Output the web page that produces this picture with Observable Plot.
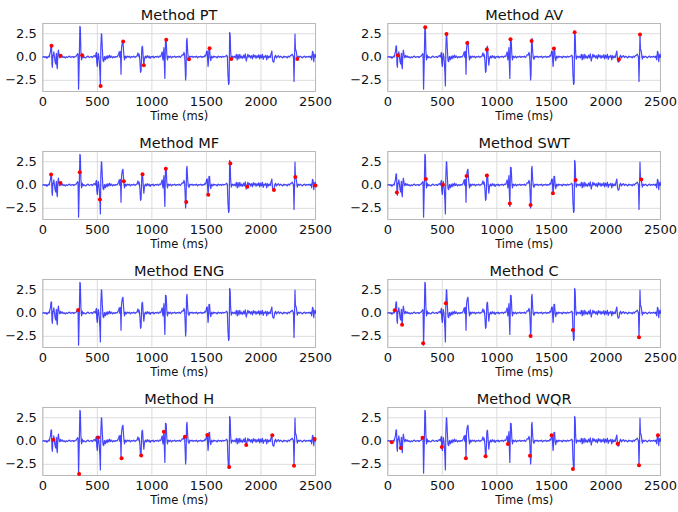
<!DOCTYPE html>
<html><head><meta charset="utf-8">
<script src="https://cdn.jsdelivr.net/npm/d3@7"></script>
<script src="https://cdn.jsdelivr.net/npm/@observablehq/plot@0.6"></script>
<style>
html,body{margin:0;padding:0;background:#fff;overflow:hidden;}
#wrap{position:relative;width:678px;height:512px;font-family:"DejaVu Sans",sans-serif;}
#wrap svg{position:absolute;overflow:visible;}
</style></head><body><div id="wrap"></div>
<script>
// ECG-like signal: [time (ms), amplitude]
const ecg = [
[0,0],[10,0.05],[20,-0.05],[30,0.05],[37,-0.14],[45,0.0],[52,0.1],[58,0.0],[64,0.3],[70,0.55],[75,1.15],[80,1.2],[84,-0.8],[88,-1.1],[92,0.2],[96,0.15],[101,0.55],[107,0.0],[113,-0.55],[119,-0.75],[124,0.4],[129,-0.9],[133,-1.25],[138,0.3],[143,0.75],[149,0.2],[156,-0.1],[162,0.18],[170,0.0],[178,0.12],[186,-0.05],[195,0.05],[205,-0.1],[215,0.02],[225,-0.06],[235,0.05],[245,0.1],[255,-0.05],[265,0.02],[275,0.06],[285,-0.05],[295,0.05],[305,0.1],[312,0.2],[318,0.36],[323,0.32],[328,-3.45],[334,-0.5],[340,3.3],[344,3.15],[349,0.66],[355,-0.3],[361,0.2],[368,-0.1],[376,0.05],[385,-0.05],[395,-0.1],[405,0.05],[415,0.1],[425,-0.05],[435,0.0],[445,0.06],[455,-0.05],[465,0.1],[474,0.15],[481,0.0],[487,0.3],[491,0.5],[495,-0.64],[500,-1.0],[505,0.05],[508,0.39],[513,0.1],[518,-0.5],[523,-1.56],[528,-3.1],[532,0.96],[537,2.5],[540,2.45],[546,0.8],[552,-0.4],[558,-0.5],[565,0.05],[573,-0.3],[581,0.1],[589,-0.2],[597,0.15],[605,-0.1],[613,0.2],[621,-0.05],[630,0.1],[640,-0.1],[650,0.05],[660,-0.05],[670,0.05],[680,0.0],[688,0.15],[695,0.3],[700,0.55],[705,0.0],[710,0.6],[714,-0.3],[717,-1.86],[722,0.96],[728,1.5],[735,1.7],[742,0.4],[749,-0.3],[756,0.1],[764,-0.1],[774,0.1],[784,0.0],[794,0.1],[804,-0.1],[814,0.05],[824,0.0],[834,0.1],[844,-0.05],[854,0.05],[863,0.1],[872,0.45],[878,0.1],[884,0.3],[890,-0.4],[896,-1.64],[901,-1.5],[908,1.03],[914,1.16],[920,0.1],[926,-0.87],[932,-0.2],[940,0.1],[948,-0.1],[957,0.15],[966,-0.05],[975,0.1],[984,-0.15],[993,0.05],[1002,0.0],[1011,0.1],[1020,-0.1],[1030,0.05],[1040,0.0],[1050,0.1],[1060,-0.05],[1070,0.1],[1080,0.05],[1088,0.3],[1094,0.55],[1101,-0.32],[1106,0.3],[1110,1.0],[1115,-1.0],[1119,-2.3],[1125,1.9],[1131,1.85],[1137,0.3],[1143,-0.3],[1150,0.1],[1160,-0.05],[1170,0.1],[1180,-0.1],[1190,0.05],[1200,0.0],[1210,0.1],[1220,-0.05],[1230,0.05],[1240,0.0],[1250,0.1],[1260,-0.05],[1270,0.1],[1280,0.25],[1288,0.2],[1294,0.5],[1300,0.3],[1305,-1.0],[1309,-2.46],[1313,-1.9],[1318,1.73],[1322,2.0],[1328,0.6],[1334,-0.1],[1340,-0.25],[1348,0.1],[1358,0.0],[1368,0.1],[1378,-0.05],[1388,0.05],[1398,0.0],[1408,0.1],[1418,-0.1],[1428,0.05],[1438,0.0],[1448,0.1],[1458,-0.05],[1468,0.05],[1478,0.0],[1488,0.2],[1494,0.1],[1502,0.61],[1508,0.64],[1511,-0.3],[1515,-1.0],[1519,-0.5],[1523,0.92],[1529,0.94],[1534,0.0],[1540,-0.4],[1548,0.1],[1558,-0.1],[1568,0.1],[1578,0.0],[1588,0.05],[1598,-0.1],[1608,0.1],[1618,0.0],[1628,0.05],[1638,-0.05],[1648,0.1],[1658,0.0],[1668,0.05],[1678,0.1],[1686,0.2],[1692,0.05],[1697,-1.82],[1703,-2.95],[1708,-2.8],[1713,2.65],[1718,2.32],[1722,0.55],[1728,-0.22],[1736,0.1],[1745,-0.05],[1755,0.1],[1765,-0.1],[1775,0.3],[1782,-0.3],[1790,0.25],[1798,-0.2],[1806,0.3],[1814,-0.1],[1822,0.1],[1830,-0.15],[1840,0.2],[1848,-0.1],[1856,0.35],[1865,-0.43],[1872,-0.1],[1880,0.3],[1888,0.0],[1896,0.2],[1905,-0.1],[1914,0.15],[1922,-0.2],[1930,0.25],[1938,0.0],[1946,0.2],[1955,-0.15],[1963,0.15],[1972,-0.05],[1980,0.25],[1988,-0.2],[1996,0.2],[2005,-0.1],[2013,0.3],[2021,-0.25],[2029,0.1],[2037,0.0],[2045,0.2],[2053,-0.3],[2061,0.15],[2069,-0.1],[2077,0.1],[2085,-0.05],[2092,0.3],[2100,0.65],[2106,-0.3],[2112,-0.55],[2119,-0.5],[2126,0.0],[2134,0.2],[2142,-0.1],[2150,0.05],[2160,0.15],[2170,-0.05],[2180,0.1],[2190,0.0],[2200,-0.1],[2210,0.1],[2220,0.0],[2230,0.05],[2240,-0.1],[2250,0.1],[2260,0.0],[2270,0.15],[2280,0.2],[2288,0.3],[2294,0.15],[2298,0.0],[2303,-2.62],[2308,0.0],[2312,2.45],[2316,0.87],[2324,0.59],[2333,-0.22],[2340,0.1],[2350,-0.05],[2360,0.1],[2370,0.0],[2380,-0.1],[2390,0.05],[2400,0.1],[2410,-0.05],[2420,0.05],[2430,0.0],[2440,0.1],[2450,-0.05],[2458,0.1],[2465,-0.3],[2472,0.6],[2478,0.5],[2484,-0.5],[2490,0.2],[2496,0.3],[2500,0.0]
];

// Detected peaks per method: [time (ms), amplitude]
const detPT  = [[80,1.2],[162,0.15],[361,0.2],[530,-3.1],[737,1.67],[926,-0.87],[1132,1.85],[1340,-0.25],[1529,0.94],[1728,-0.22],[2333,-0.22]];
const detAV  = [[92,0.18],[343,3.2],[538,2.46],[728,1.5],[908,0.8],[1125,1.9],[1318,1.73],[1523,0.92],[1713,2.65],[2119,-0.26],[2312,2.43]];
const detMF  = [[76,1.12],[162,0.22],[339,1.38],[523,-1.56],[743,0.4],[914,1.16],[1128,1.74],[1315,-1.81],[1517,-1.05],[1719,2.32],[1875,-0.18],[2119,-0.54],[2315,0.87],[2500,-0.04]];
const detSWT = [[83,-0.81],[349,0.66],[505,0.04],[722,0.96],[908,1.03],[1119,-1.99],[1309,-2.13],[1514,-0.88],[1722,0.55],[2324,0.59]];
const detENG = [[324,0.33]];
const detC   = [[64,0.29],[131,-1.25],[324,-3.25],[532,1.04],[1309,-2.46],[1697,-1.82],[2303,-2.6]];
const detH   = [[95,0.14],[333,-3.54],[508,0.39],[722,-1.86],[902,-1.54],[1110,1.0],[1303,0.46],[1508,0.64],[1709,-2.79],[1865,-0.43],[2104,0.61],[2303,-2.64],[2492,0.21]];
const detWQR = [[37,-0.14],[119,-0.75],[318,0.36],[495,-0.64],[716,-1.86],[896,-1.64],[1101,-0.32],[1303,-1.57],[1502,0.61],[1697,-3.0],[2107,-0.29],[2303,-2.6],[2477,0.61]];

const methodNames = ["PT","AV","MF","SWT","ENG","C","H","WQR"];
const methodDets  = [detPT, detAV, detMF, detSWT, detENG, detC, detH, detWQR];
const xTicks = [0,500,1000,1500,2000,2500];
const yTicks = [-2.5,0,2.5];

const wrap = document.getElementById("wrap");
const colLeft = [0, 344.7];
const frameTop = [22.7, 150.7, 278.7, 407];
const mTop = 22, mBot = 36, mLeft = 42.3, mRight = 20;
const fmtY = d3.format(".1f");
const fmtX = d3.format("d");

methodNames.forEach((name, i) => {
  const col = i % 2, row = Math.floor(i / 2);
  const svg = Plot.plot({
    width: mLeft + 272.7 + mRight, height: mTop + 68 + mBot,
    marginLeft: mLeft, marginRight: mRight, marginTop: mTop, marginBottom: mBot,
    x: {domain: [0, 2500]},
    y: {domain: [-3.7, 3.6]},
    style: {fontFamily: '"DejaVu Sans", sans-serif', fontSize: "13px", color: "#111", background: "transparent"},
    marks: [
      Plot.gridX(xTicks, {stroke: "#dcdcdc", strokeOpacity: 1, strokeWidth: 1}),
      Plot.gridY(yTicks, {stroke: "#dcdcdc", strokeOpacity: 1, strokeWidth: 1}),
      Plot.frame({stroke: "#b8b8b8", strokeWidth: 1}),
      Plot.axisX(xTicks, {tickSize: 0, tickPadding: 5, label: null, fontSize: 13, tickFormat: fmtX}),
      Plot.axisY(yTicks, {tickSize: 0, tickPadding: 6, label: null, fontSize: 13, tickFormat: fmtY}),
      Plot.line(ecg, {x: d => d[0], y: d => d[1], stroke: "blue", strokeOpacity: 0.72, strokeWidth: 1.2}),
      Plot.dot(methodDets[i], {x: d => d[0], y: d => d[1], r: 2, fill: "red", stroke: "none"}),
      Plot.text([`Method ${name}`], {text: d => d, frameAnchor: "top", lineAnchor: "bottom", dy: -4, fontSize: 14.5, fill: "#111"}),
      Plot.text(["Time (ms)"], {text: d => d, frameAnchor: "bottom", lineAnchor: "bottom", dy: 28, fontSize: 11.5, fill: "#111"})
    ]
  });
  svg.style.left = (colLeft[col]) + "px";
  svg.style.top = (frameTop[row] - mTop) + "px";
  wrap.appendChild(svg);
});
</script>
</body></html>
